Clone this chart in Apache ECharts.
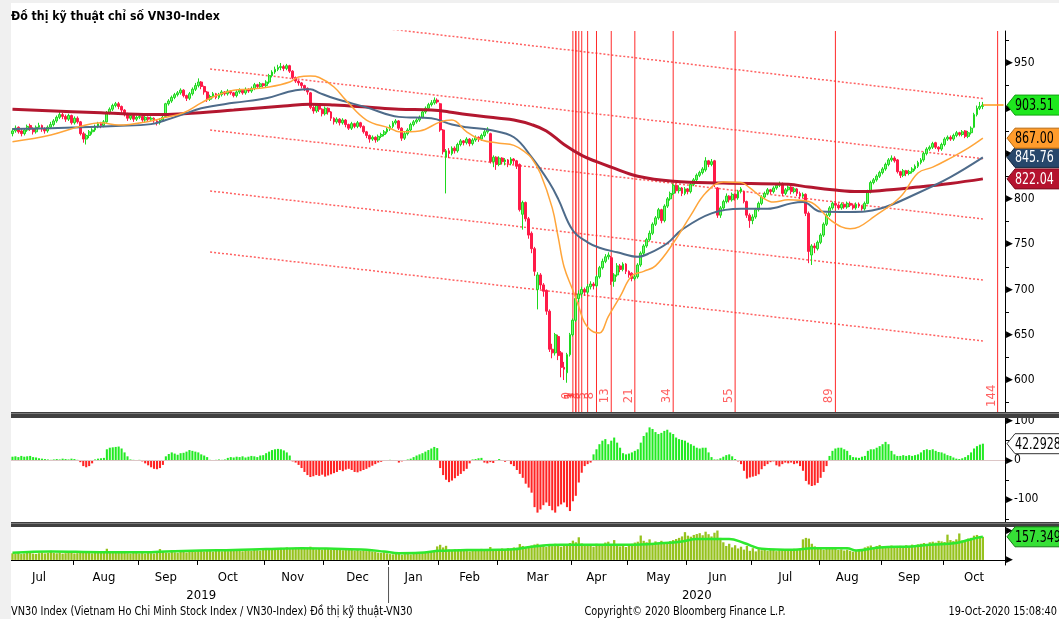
<!DOCTYPE html>
<html><head><meta charset="utf-8">
<script src="https://cdn.jsdelivr.net/npm/echarts@6/dist/echarts.min.js"></script>
<style>html,body{margin:0;padding:0;background:#fff;}#c{width:1059px;height:619px;}</style>
</head><body><div id="c"></div>
<script>
const FONT = "'DejaVu Sans Condensed','Liberation Sans Narrow','Liberation Sans',sans-serif";

// ---- daily candles [open, close, low, high], Jul 2019 .. 19 Oct 2020
const candles = [
[872,875,869,878],[875,878,873,881],[879,874,872,880],[875,872,869,877],[872,876,870,878],[876,880,874,882],[881,877,875,883],[877,874,871,879],[874,879,872,881],[879,881,877,884],
[881,877,874,882],[877,875,872,879],[875,879,873,881],[879,882,877,885],[882,886,880,888],[886,890,884,892],[890,893,888,896],[893,891,888,895],[891,888,885,893],[888,892,886,894],
[892,884,882,893],[884,889,882,891],[889,885,883,891],[885,872,870,886],[872,866,862,874],[866,870,860,872],[870,874,867,876],[874,876,871,878],[876,880,874,882],[880,883,878,885],
[883,881,878,885],[881,885,879,887],[885,895,884,897],[895,899,893,901],[899,903,897,905],[903,905,901,907],[905,902,899,907],[902,898,895,903],[898,893,891,899],[893,889,886,895],
[889,892,887,894],[892,888,885,893],[888,890,886,892],[890,891,888,893],[891,887,885,892],[887,890,885,892],[890,888,886,891],[888,889,886,891],[889,886,884,890],[886,884,881,887],
[884,887,882,889],[887,890,885,892],[891,905,890,906],[905,908,903,910],[908,912,906,914],[912,915,910,917],[915,917,913,919],[917,920,915,922],[920,914,912,921],[914,911,908,915],
[911,916,909,918],[916,921,914,923],[921,925,919,928],[925,929,923,933],[929,924,921,930],[924,918,915,925],[918,910,907,919],[910,913,908,915],[913,916,911,918],[916,912,910,917],
[912,915,910,917],[915,918,913,920],[918,916,914,919],[916,919,914,921],[919,917,915,920],[917,914,912,918],[914,918,912,920],[918,920,916,922],[920,917,915,921],[917,921,915,923],
[921,919,917,922],[919,922,917,924],[922,926,920,928],[926,924,922,927],[924,927,922,929],[927,925,923,928],[925,929,923,931],[929,936,927,938],[936,940,934,942],[940,943,938,946],
[943,945,941,948],[945,946,942,950],[946,944,941,948],[944,947,942,949],[947,941,939,948],[941,934,932,942],[934,930,928,935],[930,928,925,931],[928,925,922,929],[925,922,919,926],
[922,918,915,923],[917,901,899,918],[901,897,894,903],[897,903,895,905],[903,899,896,904],[899,894,891,900],[894,900,892,902],[900,896,893,901],[896,889,886,897],[889,885,882,890],
[885,888,883,890],[888,884,881,889],[884,887,882,889],[887,882,879,888],[882,878,876,883],[878,883,876,885],[883,880,878,884],[880,884,878,886],[884,880,878,885],[880,874,872,881],
[874,870,867,875],[870,866,862,871],[866,868,864,870],[868,865,862,869],[865,869,863,871],[869,871,867,873],[871,874,869,876],[874,877,872,879],[877,880,875,882],[880,884,878,886],
[884,886,882,888],[886,878,876,887],[878,867,864,879],[867,872,865,874],[872,876,870,878],[876,882,874,884],[882,885,880,887],[885,887,883,889],[887,890,885,892],[890,896,889,898],
[896,900,894,902],[900,904,898,906],[904,906,902,909],[906,909,904,912],[909,907,905,911],[905,876,874,906],[876,852,849,877],[846,853,806,855],[853,850,845,856],[850,856,848,858],
[856,853,850,858],[853,860,851,862],[860,864,858,866],[864,862,859,865],[862,866,860,868],[866,861,858,867],[861,865,859,867],[865,868,863,870],[868,866,863,869],[866,870,864,872],
[870,874,868,876],[874,877,872,879],[872,841,839,873],[841,846,835,848],[846,838,832,847],[838,845,836,847],[845,841,838,846],[841,843,837,845],[843,839,835,844],[839,844,837,846],
[844,842,838,845],[842,836,833,843],[838,788,786,839],[783,796,766,798],[796,778,775,797],[778,760,756,780],[762,745,740,764],[745,720,715,747],[700,716,678,719],[716,705,700,718],
[705,698,692,707],[699,676,672,700],[676,634,631,678],[634,630,624,640],[630,650,627,652],[648,627,622,650],[630,614,603,632],[614,612,600,620],[608,628,597,630],[628,650,626,652],
[650,666,648,668],[666,690,664,693],[690,695,686,699],[695,700,691,703],[700,697,693,702],[697,703,695,706],[703,706,700,709],[706,704,700,708],[704,714,702,716],[714,724,712,726],
[724,731,722,734],[731,736,729,739],[736,738,733,741],[735,709,705,737],[709,716,703,718],[716,726,714,729],[726,722,719,728],[722,728,720,730],[728,720,717,729],[720,716,713,721],
[718,712,709,719],[712,714,710,717],[714,727,712,729],[727,740,725,742],[740,748,738,750],[748,755,746,757],[755,762,753,765],[762,772,760,774],[772,779,770,781],[779,788,777,790],
[788,776,773,789],[776,792,774,794],[792,800,790,802],[800,806,798,808],[806,815,804,817],[815,809,806,816],[809,812,806,815],[812,806,803,813],[806,811,804,813],[811,808,805,812],
[808,816,806,818],[816,821,814,823],[821,826,819,828],[826,829,824,831],[829,833,827,835],[832,842,830,846],[842,838,835,843],[838,841,836,844],[842,816,813,843],[812,782,779,813],
[782,790,779,792],[790,797,788,799],[797,803,795,806],[803,799,796,804],[799,805,797,807],[805,801,798,806],[801,808,799,810],[808,811,806,813],[808,797,795,809],[797,782,779,798],
[782,776,768,784],[776,780,772,783],[780,788,778,790],[788,795,786,797],[795,802,793,804],[802,806,800,808],[806,810,804,812],[810,808,805,811],[808,812,806,814],[812,815,810,817],
[815,817,813,819],[816,806,803,818],[806,810,804,812],[810,813,808,815],[813,808,805,814],[808,811,806,813],[811,806,803,812],[806,803,800,808],[803,805,801,807],[805,784,781,806],
[784,742,729,786],[738,748,727,750],[748,746,740,751],[745,752,743,754],[752,760,750,762],[760,772,758,774],[772,782,770,784],[782,790,780,792],[790,795,788,797],[795,793,790,797],
[793,790,788,795],[790,794,788,796],[794,791,789,795],[791,795,789,797],[795,793,791,797],[793,790,788,795],[790,794,788,796],[794,792,790,796],[792,789,787,793],[789,795,787,797],
[795,808,794,810],[808,818,806,820],[818,821,816,823],[821,825,819,827],[825,829,823,831],[829,833,827,835],[833,838,831,840],[838,843,836,845],[843,845,841,848],[845,842,840,847],
[843,830,828,844],[830,826,823,831],[826,831,824,833],[831,828,825,832],[828,830,826,832],[830,833,828,835],[833,836,831,838],[836,840,834,842],[840,843,838,845],[843,850,841,852],
[850,855,848,857],[855,857,853,859],[857,861,855,863],[862,857,855,863],[857,855,852,858],[855,860,853,862],[860,866,858,868],[866,868,864,870],[868,866,864,870],[866,870,864,872],
[870,873,868,875],[873,871,869,874],[871,874,869,876],[875,869,867,876],[869,873,867,875],[873,878,871,880],[879,893,878,895],[893,900,891,903],[900,902,898,907],[902,903.51,899,907]
];

// ---- moving averages: [dayIndex, value]
const maFast = [[0,863],[13,870.5],[23,880],[30,884],[36,881.5],[47,886],[52,890],[58,895],[64,906],[68,912.5],[75,920],[80,921],[87,923.5],[94,929],[97,934.5],[101,935.5],[104,934],[109,923.5],[113,909],[120,887],[128,878],[131,874],[138,875],[145,885],[149,887],[154,874],[159,865],[165,861.5],[170,859],[174,851],[176,845],[179,828],[183,790],[185,758],[187,725],[190,699],[192,681],[194,663],[197,653],[199,652],[202,670],[206,692],[210,715],[214,720],[218,726],[224,751],[230,782],[235,806.5],[241,818.6],[247,818],[250,812],[254,802],[258,796.5],[263,799],[270,797],[278,775],[284,767],[287,769],[292,780],[301,802],[307,828.6],[312,835],[318,845],[324,856],[329,867]];
const maMid = [[0,877],[13,878],[23,879],[35,880.5],[47,882.5],[52,887],[58,893.5],[64,900],[75,906],[86,911],[96,920],[101,921],[104,917],[109,911],[120,901],[131,890.5],[142,889],[149,882],[154,879],[162,876],[170,868],[176,846],[182,818],[185,800],[190,765],[195,752],[199,746],[205,741],[212,736],[216,740],[222,751],[227,766],[237,784],[247,789],[256,789],[264,795],[268,796.5],[274,786],[284,785.5],[294,789],[307,806.5],[318,824],[329,845.76]];
const maSlow = [[0,899],[30,895],[47,893],[58,894],[75,898],[92,902.5],[101,904.5],[109,903.6],[120,901.4],[131,899],[142,898],[148,896],[154,893],[165,889],[170,887],[176,882],[181,875],[187,860],[193,848],[198,841],[203,835],[212,825],[224,819.5],[241,817.5],[263,816],[270,813],[278,810],[287,808],[294,809],[307,813],[318,817],[329,822.04]];

// ---- regression channel (start/end points)
const chanPlus2 = [[67,1010.7],[329,910.8]];
const chanPlus1 = [[67,943.4],[329,844.3]];
const chanMid   = [[67,876.0],[329,777.8]];
const chanMinus1= [[67,808.7],[329,710.4]];
const chanMinus2= [[67,741.3],[329,643.1]];

// ---- fibonacci time zones
const fibStart = 190;
const fibOffsets = [0,1,1,2,3,5,8,13,21,34,55,89,144];

// ---- MACD histogram
const macdHist = [
9,10,8,11,9,10,11,8,7,5, 4,3,2,1,2,3,2,4,3,2, 4,3,1,-5,-15,-18,-15,-8,2,4,
5,6,28,32,33,34,35,30,20,10, 2,1,0,1,-3,-8,-13,-18,-22,-23, -20,-12,10,16,20,17,14,18,19,22,
26,24,22,20,15,12,8,1,0,1, 2,1,2,6,8,7,9,8,10,7, 9,11,10,8,12,13,18,22,26,28,
29,28,25,20,12,-3,-6,-12,-20,-30, -38,-43,-41,-38,-40,-37,-42,-39,-36,-33, -30,-25,-28,-24,-22,-25,-30,-31,-28,-25,
-22,-18,-14,-10,-6,-4,-2,0,1,0, -2,-6,-3,0,2,4,8,12,15,18, 22,26,30,34,31,-20,-38,-50,-56,-52,
-46,-40,-35,-28,-22,-8,2,3,5,6, -6,-8,-5,-7,0,3,-2,-4,-2,-10, -15,-25,-35,-45,-60,-70,-83,-120,-134,-126,
-115,-108,-117,-128,-134,-118,-113,-108,-120,-130, -105,-91,-57,-32,-15,-10,-6,15,28,41, 50,54,41,50,58,45,32,18,15,17,
20,24,28,45,62,71,84,80,72,67, 70,75,78,71,67,58,54,52,50,45, 41,37,32,30,32,32,20,8,2,2,
5,9,13,15,10,3,-3,-10,-27,-47, -44,-42,-40,-36,-23,-15,-10,-5,-3,-13, -16,-10,-6,-8,-6,-10,-8,-15,-27,-53,
-62,-66,-64,-58,-45,-30,-15,11,24,30, 32,32,28,24,13,8,7,6,9,11, 24,28,28,32,36,41,47,41,24,15,
11,11,13,11,13,11,13,15,20,26, 28,26,28,24,21,20,17,13,11,7, 4,3,5,8,13,20,30,36,40,42.2928
];

// ---- volume (millions)
const volume = [
45,42,48,40,44,52,47,43,41,46,50,44,48,62,47,45,50,43,46,52,48,44,46,55,58,50,47,45,49,53,
48,52,76,55,50,47,53,60,49,46,44,48,51,45,47,43,49,46,44,52,74,56,50,48,66,52,49,55,57,51,
58,62,55,60,66,58,63,61,57,64,62,59,66,60,63,68,61,65,59,67,64,62,70,66,63,69,72,75,68,80,
76,82,78,85,74,80,83,77,86,79,82,90,75,72,78,70,74,76,68,72,75,70,66,73,69,71,64,68,62,66,
60,63,58,55,50,48,52,45,40,38,44,42,36,40,47,38,43,46,41,50,52,48,56,60,92,103,85,96,70,66,
72,64,68,74,62,58,70,66,64,75,68,72,88,70,74,66,78,72,80,76,85,82,108,95,88,92,98,105,110,96,
102,88,100,94,110,96,90,104,98,115,131,120,154,112,105,98,102,90,110,95,106,118,124,108,135,98,92,100,88,96,
110,118,124,166,130,120,140,112,126,118,130,122,115,128,135,142,150,160,189,165,158,170,176,182,168,192,175,160,185,200,
150,120,95,110,85,100,78,90,70,95,62,80,58,74,66,70,62,68,75,60,66,72,64,70,62,76,68,72,140,150,
145,110,92,78,85,70,82,76,74,80,68,72,64,70,62,56,60,66,72,85,92,98,88,95,102,90,86,94,98,92,
88,96,90,100,94,104,98,106,110,115,108,120,124,118,130,126,122,172,135,128,140,180,132,126,145,150,165,170,160,157.35
];
const volMA = [[0,48],[13,57],[30,53],[47,53],[52,57],[64,64],[75,67],[86,74],[98,80],[109,76],[120,69],[126,57],[131,46],[138,48],[145,62],[154,67],[165,69],[170,72],[176,90],[186,103],[198,103],[209,103],[221,115],[227,126],[232,143],[243,143],[248,115],[254,76],[265,69],[271,80],[283,80],[286,64],[294,85],[305,92],[311,103],[320,115],[324,135],[327,150],[329,157.35]];

// ---- axis labels
const monthNames   = ['Jul','Aug','Sep','Oct','Nov','Dec','Jan','Feb','Mar','Apr','May','Jun','Jul','Aug','Sep','Oct'];
const monthLabelAt = [9,31,52,73,95,117,136,155,178,198,219,239,262,283,304,326];
const monthTickAt  = [21,43,63,86,106,128,145,165,190,209,229,251,274,295,316];
const yearNames    = ['2019','2020'];
const yearLabelAt  = [64,232];
const yearSplitAt  = 128;
const priceLabels  = [600,650,700,750,800,850,900,950];
const priceTicks   = [575,600,625,650,675,700,725,750,775,800,825,850,875,900,925,950,975];
const macdLabels   = [-100,0,100];
const macdTicks    = [-150,-100,-50,0,50,100];
const volTicks     = [0,200];

// ---- last values shown in badges
const lastClose = 903.51, lastFast = 867.00, lastMid = 845.76, lastSlow = 822.04;
const lastMacd = 42.2928, lastVol = 157.349;

const nCats = 337;
const lastCat = nCats - 1;
const cats = Array.from({length: nCats}, (_, i) => String(i));
const monthLabelMap = new Map(monthLabelAt.map((d, k) => [d, monthNames[k]]));
const monthTickSet = new Set(monthTickAt);
const yearMap = new Map(yearLabelAt.map((d, k) => [d, yearNames[k]]));

const PMIN = 564.7, PMAX = 985.3;   // main price axis extent
const FIB_LABEL_AT = 582;           // value level where the fib labels sit

const GL = 11, GR = 54, W = 1059;
const chart = echarts.init(document.getElementById('c'), null, {renderer: 'canvas'});

const tri = {fontSize: 9, color: '#000', fontFamily: 'DejaVu Sans', padding: [0, 1, 0, 0]};
const num = {fontSize: 12, color: '#000', fontFamily: FONT};
function rightAxis(grid, min, max, ticks, labels, showNum) {
  return {
    type: 'value', gridIndex: grid, position: 'right', min, max, scale: true,
    axisLine: {show: true, lineStyle: {color: '#000', width: 1}},
    axisTick: {show: true, customValues: ticks, length: 4, lineStyle: {color: '#000'}},
    axisLabel: {show: true, customValues: labels, margin: 1,
      formatter: v => showNum ? '{t|\u25B6}{n|' + v + '}' : '{t|\u25B6}', rich: {t: tri, n: num}},
    splitLine: {show: false}
  };
}

function hiddenX(grid) {
  return {type: 'category', gridIndex: grid, data: cats, boundaryGap: true,
    axisLine: {show: false}, axisTick: {show: false}, axisLabel: {show: false}, splitLine: {show: false}};
}

const chanStyle = {type: [2, 2], color: '#ff4545', width: 1.5, opacity: 0.85};
function chanSeries(d) {
  return {type: 'line', xAxisIndex: 0, yAxisIndex: 0, data: d, symbol: 'none', lineStyle: chanStyle, silent: true, z: 1};
}

// fibonacci vertical lines, one series per zone
const fibLineSeries = fibOffsets.map(o => ({
  type: 'line', xAxisIndex: 0, yAxisIndex: 0, symbol: 'none', silent: true, z: 2,
  data: [[fibStart + o, PMIN], [fibStart + o, PMAX]],
  lineStyle: {color: '#ff2a2a', width: 1, type: 'solid'}
}));
const fibLabelSeries = {
  type: 'scatter', xAxisIndex: 0, yAxisIndex: 0, symbolSize: 1, silent: true, z: 7,
  itemStyle: {color: 'rgba(0,0,0,0)'},
  data: fibOffsets.map(o => ({value: [fibStart + o, FIB_LABEL_AT], name: String(o)})),
  label: {show: true, formatter: '{b}', rotate: 90, position: [-6, 0], align: 'center', verticalAlign: 'middle',
    color: '#ff3a3a', fontSize: 13, fontFamily: FONT}
};
const closeLineSeries = {
  type: 'line', xAxisIndex: 0, yAxisIndex: 0, symbol: 'none', silent: true, z: 7,
  data: [[candles.length - 1, lastClose], [lastCat, lastClose]],
  lineStyle: {color: '#ff9a1a', width: 1.5}
};

const option = {
  animation: false,
  backgroundColor: '#ffffff',
  grid: [
    {left: GL, right: GR, top: 31, height: 381},
    {left: GL, right: GR, top: 418, height: 104},
    {left: GL, right: GR, top: 527, height: 38}
  ],
  xAxis: [
    hiddenX(0), hiddenX(1),
    {type: 'category', gridIndex: 2, data: cats, boundaryGap: true, position: 'bottom',
     axisLine: {show: true, lineStyle: {color: '#000', width: 1}},
     axisTick: {show: true, interval: (i) => monthTickSet.has(i), length: 5, lineStyle: {color: '#000'}},
     axisLabel: {show: true, interval: (i) => monthLabelMap.has(i), formatter: (v) => monthLabelMap.get(Number(v)) || '',
       color: '#000', fontSize: 13, fontFamily: FONT, margin: 6},
     splitLine: {show: false}},
    {type: 'category', gridIndex: 2, data: cats, boundaryGap: true, position: 'bottom', offset: 21,
     axisLine: {show: false}, axisTick: {show: false},
     axisLabel: {show: true, interval: (i) => yearMap.has(i), formatter: (v) => yearMap.get(Number(v)) || '',
       color: '#000', fontSize: 13, fontFamily: FONT, margin: 3},
     splitLine: {show: false}}
  ],
  yAxis: [
    rightAxis(0, PMIN, PMAX, priceTicks, priceLabels, true),
    rightAxis(1, -158, 108, macdTicks, macdLabels, true),
    rightAxis(2, -34.5, 224, volTicks, volTicks, false)
  ],
  series: [
    chanSeries(chanPlus2), chanSeries(chanPlus1), chanSeries(chanMid), chanSeries(chanMinus1), chanSeries(chanMinus2),
    ...fibLineSeries,
    {type: 'candlestick', xAxisIndex: 0, yAxisIndex: 0, data: candles, barWidth: '80%', z: 3,
     itemStyle: {color: '#74f574', color0: '#ff1a48', borderColor: '#1ed81e', borderColor0: '#ff1a48', borderWidth: 1}},
    {type: 'line', xAxisIndex: 0, yAxisIndex: 0, data: maSlow, symbol: 'none', smooth: 0.4,
     lineStyle: {color: '#b3172f', width: 3}, z: 4, silent: true},
    {type: 'line', xAxisIndex: 0, yAxisIndex: 0, data: maMid, symbol: 'none', smooth: 0.4,
     lineStyle: {color: '#4e6b8a', width: 2}, z: 5, silent: true},
    {type: 'line', xAxisIndex: 0, yAxisIndex: 0, data: maFast, symbol: 'none', smooth: 0.4,
     lineStyle: {color: '#ffa53a', width: 1.5}, z: 6, silent: true},
    closeLineSeries,
    fibLabelSeries,
    {type: 'bar', xAxisIndex: 1, yAxisIndex: 1, data: macdHist, barWidth: '70%', silent: true,
     itemStyle: {color: p => p.value >= 0 ? '#22ea22' : '#ff2424'},
     markLine: {symbol: ['none', 'none'], silent: true, label: {show: false},
       lineStyle: {color: '#dcc6c6', width: 1, type: 'solid'}, data: [{yAxis: 0}]}},
    {type: 'bar', xAxisIndex: 2, yAxisIndex: 2, data: volume, barWidth: '78%', silent: true,
     itemStyle: {color: '#96c21e'}},
    {type: 'line', xAxisIndex: 2, yAxisIndex: 2, data: volMA, symbol: 'none', smooth: 0.4,
     lineStyle: {color: '#2ee82e', width: 2.5}, silent: true, z: 5}
  ]
};
chart.setOption(option);

function badge(axis, value, text, fill, stroke, color) {
  const y = chart.convertToPixel({yAxisIndex: axis}, value);
  const x = W - GR;
  return {type: 'group', z: 100, children: [
    {type: 'polygon', shape: {points: [[x + 2, y], [x + 10, y - 10], [x + 62, y - 10], [x + 62, y + 10], [x + 10, y + 10]]},
     style: {fill, stroke, lineWidth: 1}, z: 100},
    {type: 'text', x: x + 10, y: y + 1, z: 101, scaleX: 0.82,
     style: {text, fill: color, fontSize: 15, fontFamily: FONT, verticalAlign: 'middle', align: 'left'}}
  ]};
}

const band = (W - GL - GR) / nCats;
const splitX = GL + yearSplitAt * band;
const footStyle = {fill: '#000', fontSize: 13, fontFamily: FONT, verticalAlign: 'middle'};
const g = [
  {type: 'rect', shape: {x: 0, y: 0, width: 11, height: 619}, style: {fill: '#f0f0f0'}, z: 50},
  {type: 'rect', shape: {x: 0, y: 0, width: W, height: 3}, style: {fill: '#f0f0f0'}, z: 50},
  {type: 'rect', shape: {x: 11, y: 412, width: W - 11, height: 6}, style: {fill: '#404040'}, z: 50},
  {type: 'rect', shape: {x: 11, y: 413, width: W - 11, height: 1}, style: {fill: '#7a7a7a'}, z: 51},
  {type: 'rect', shape: {x: 11, y: 522, width: W - 11, height: 5}, style: {fill: '#404040'}, z: 50},
  {type: 'rect', shape: {x: 11, y: 523, width: W - 11, height: 1}, style: {fill: '#7a7a7a'}, z: 51},
  {type: 'line', shape: {x1: splitX, y1: 567, x2: splitX, y2: 603}, style: {stroke: '#555', lineWidth: 1}, z: 50},
  {type: 'text', x: 11, y: 17, z: 60, scaleX: 0.94, style: {text: 'Đồ thị kỹ thuật chỉ số VN30-Index', fill: '#000',
     fontSize: 13, fontWeight: 'bold', fontFamily: FONT, verticalAlign: 'middle'}},
  {type: 'text', x: 11, y: 612, z: 60, scaleX: 0.835, style: Object.assign({text: 'VN30 Index (Vietnam Ho Chi Minh Stock Index / VN30-Index) Đồ thị kỹ thuật-VN30'}, footStyle)},
  {type: 'text', x: 685, y: 612, z: 60, scaleX: 0.835, style: Object.assign({text: 'Copyright\u00A9 2020 Bloomberg Finance L.P.', align: 'center'}, footStyle)},
  {type: 'text', x: 1057, y: 612, z: 60, scaleX: 0.835, style: Object.assign({text: '19-Oct-2020 15:08:40', align: 'right'}, footStyle)},
  badge(0, lastSlow, lastSlow.toFixed(2), '#b5132e', '#7a0c1e', '#ffffff'),
  badge(0, lastMid, lastMid.toFixed(2), '#27476b', '#14273d', '#ffffff'),
  badge(0, lastFast, lastFast.toFixed(2), '#ff9c2c', '#b86a10', '#000000'),
  badge(0, lastClose, lastClose.toFixed(2), '#1ee81e', '#12a012', '#000000'),
  badge(1, lastMacd, String(lastMacd), '#ffffff', '#333333', '#000000'),
  badge(2, lastVol, lastVol.toFixed(3) + 'M', '#36e036', '#167a16', '#000000')
];
chart.setOption({graphic: g});
</script>
</body></html>
